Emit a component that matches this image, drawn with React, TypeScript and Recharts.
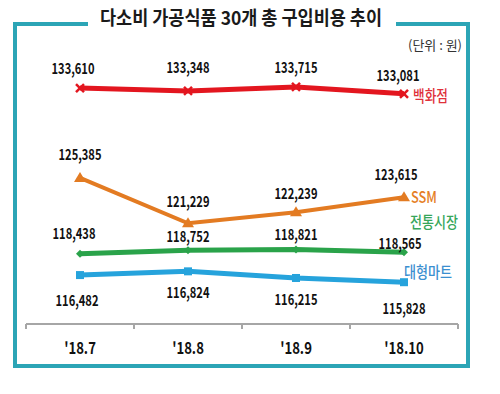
import { LabelList, Line, LineChart, XAxis, YAxis } from "recharts";

const months = ["'18.7", "'18.8", "'18.9", "'18.10"];
const deptStore = [133610, 133348, 133715, 133081];
const ssm = [125385, 121229, 122239, 123615];
const traditionalMarket = [118438, 118752, 118821, 118565];
const hypermarket = [116482, 116824, 116215, 115828];
const seriesNames = ["백화점", "SSM", "전통시장", "대형마트"];

const chartData = months.map((month, i) => ({
    month,
    dept: deptStore[i],
    ssm: ssm[i],
    market: traditionalMarket[i],
    mart: hypermarket[i],
}));

const FONT = "'Noto Sans CJK KR', 'Noto Sans', sans-serif";
const TEAL = "#2ca5b6";
const HALF_BAND = 54;

// label placement per series: value label nudges + where the series name sits next to the last point
const series = [
    { key: "dept", name: seriesNames[0], color: "#e3161f", text: "#e0303a", width: 5, shape: "x", dx: [-7, 0, 0, -6], dy: [-21, -24, -20, -19], nameDx: 9, nameDy: 1, nameLen: 35 },
    { key: "ssm", name: seriesNames[1], color: "#e37b22", text: "#e57e25", width: 4, shape: "tri", dx: [0, 0, 0, -8], dy: [-24, -23, -20, -24], nameDx: 7, nameDy: -1, nameLen: 26 },
    { key: "market", name: seriesNames[2], color: "#2aa34a", text: "#36a65a", width: 5, shape: "diamond", dx: [-6, 0, 0, -4], dy: [-21, -15, -16, -10], nameDx: 6, nameDy: -31, nameLen: 48 },
    { key: "mart", name: seriesNames[3], color: "#26a3dc", text: "#3b8fd0", width: 5, shape: "square", dx: [-3, 0, 0, 0], dy: [24, 20, 21, 25], nameDx: 0, nameDy: -11, nameLen: 48 },
];

const Marker = ({ cx, cy, shape, color }: any) => {
    if (cx == null || cy == null) return null;
    if (shape === "x")
        return (
            <g stroke={color} strokeWidth={2.5}>
                <line x1={cx - 4} y1={cy - 4} x2={cx + 4} y2={cy + 4} />
                <line x1={cx - 4} y1={cy + 4} x2={cx + 4} y2={cy - 4} />
            </g>
        );
    if (shape === "tri") return <polygon points={`${cx},${cy - 6} ${cx + 6},${cy + 4} ${cx - 6},${cy + 4}`} fill={color} />;
    if (shape === "diamond") return <polygon points={`${cx},${cy - 4} ${cx + 4},${cy} ${cx},${cy + 4} ${cx - 4},${cy}`} fill={color} />;
    return <rect x={cx - 4} y={cy - 4} width={8} height={8} fill={color} />;
};

const ValueLabel = (s: (typeof series)[number]) => (props: any) => {
    const { x, y, value, index } = props;
    return (
        <g fontFamily={FONT}>
            <text
                x={x + s.dx[index]}
                y={y + s.dy[index]}
                textAnchor="middle"
                dominantBaseline="central"
                fontSize={15}
                fontWeight={700}
                fill="#111"
                textLength={43}
                lengthAdjust="spacingAndGlyphs"
            >
                {Number(value).toLocaleString("en-US")}
            </text>
            {index === months.length - 1 && (
                <text
                    x={x + s.nameDx}
                    y={y + s.nameDy}
                    dominantBaseline="central"
                    fontSize={16}
                    fontWeight={500}
                    fill={s.text}
                    textLength={s.nameLen}
                    lengthAdjust="spacingAndGlyphs"
                >
                    {s.name}
                </text>
            )}
        </g>
    );
};

const MonthTick = ({ x, y, payload, index }: any) => (
    <g>
        <line x1={x - HALF_BAND} y1={y} x2={x - HALF_BAND} y2={y + 5} stroke="#a6a6a6" strokeWidth={2} />
        {index === months.length - 1 && <line x1={x + HALF_BAND} y1={y} x2={x + HALF_BAND} y2={y + 5} stroke="#a6a6a6" strokeWidth={2} />}
        <g transform={`translate(${x},${y + 23}) scale(0.82,1)`}>
            <text textAnchor="middle" dominantBaseline="central" fontFamily={FONT} fontSize={16} fontWeight={700} fill="#111">
                {payload.value}
            </text>
        </g>
    </g>
);

export default function App() {
    return (
        <div style={{ position: "absolute", left: 0, top: 0, width: 500, height: 394, background: "#fff" }}>
            <svg width={500} height={394} style={{ position: "absolute", left: 0, top: 0 }}>
                <path d="M88,24 H15 V366 H468 V24 H396" fill="none" stroke={TEAL} strokeWidth={4} />
                <text
                    x={241}
                    y={16}
                    textAnchor="middle"
                    dominantBaseline="central"
                    fontFamily={FONT}
                    fontSize={19}
                    fontWeight={700}
                    fill="#1a1a1a"
                    textLength={282}
                    lengthAdjust="spacingAndGlyphs"
                >
                    다소비 가공식품 30개 총 구입비용 추이
                </text>
                <text x={435} y={44} textAnchor="middle" dominantBaseline="central" fontFamily={FONT} fontSize={13} fill="#333" textLength={54} lengthAdjust="spacingAndGlyphs">
                    (단위 : 원)
                </text>
            </svg>
            <div style={{ position: "absolute", left: 0, top: 0 }}>
                <LineChart width={500} height={394} data={chartData} margin={{ top: 62, right: 42, bottom: 40, left: 26 }}>
                    <XAxis
                        dataKey="month"
                        scale="band"
                        height={30}
                        axisLine={{ stroke: "#a6a6a6", strokeWidth: 2 }}
                        tickLine={false}
                        tickSize={0}
                        tickMargin={0}
                        tick={<MonthTick />}
                        interval={0}
                    />
                    <YAxis hide domain={[112000, 136000]} />
                    {series.map((s) => (
                        <Line
                            key={s.key}
                            dataKey={s.key}
                            stroke={s.color}
                            strokeWidth={s.width}
                            dot={(p: any) => <Marker key={`${s.key}-${p.index}`} cx={p.cx} cy={p.cy} shape={s.shape} color={s.color} />}
                            activeDot={false}
                            isAnimationActive={false}
                        >
                            <LabelList dataKey={s.key} content={ValueLabel(s)} />
                        </Line>
                    ))}
                </LineChart>
            </div>
        </div>
    );
}
